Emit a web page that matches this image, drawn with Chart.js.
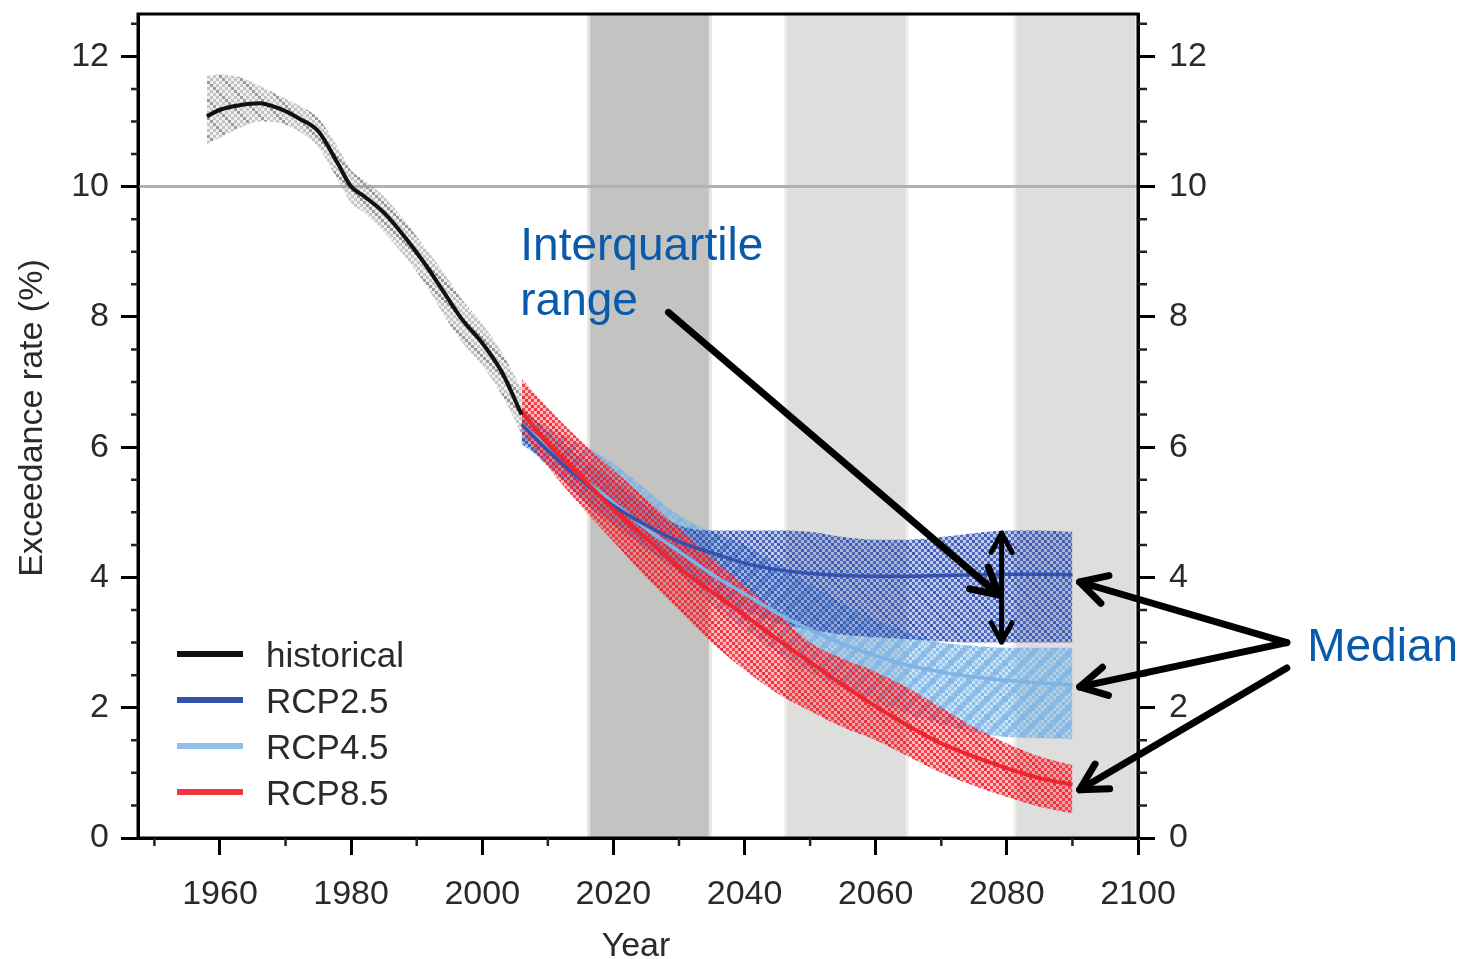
<!DOCTYPE html>
<html>
<head>
<meta charset="utf-8">
<script src="https://cdn.jsdelivr.net/npm/chart.js@4.4.0/dist/chart.umd.min.js"></script>
<style>
  html, body { margin: 0; padding: 0; background: #fff; }
  #wrap { width: 1464px; height: 959px; position: relative; }
</style>
</head>
<body>
<div id="wrap"><canvas id="chart"></canvas></div>
<script>
// historical ensemble
const histYears  = [1958, 1960, 1963, 1966, 1969, 1972, 1975, 1978, 1980, 1982, 1985, 1988, 1991, 1994, 1997, 2000, 2003, 2006];
const histMedian = [11.08, 11.18, 11.25, 11.28, 11.2, 11.05, 10.85, 10.35, 10.0, 9.85, 9.6, 9.25, 8.85, 8.4, 7.95, 7.6, 7.15, 6.5];
const histUpper  = [11.7, 11.72, 11.68, 11.55, 11.4, 11.25, 11.05, 10.6, 10.25, 10.1, 9.85, 9.5, 9.1, 8.7, 8.25, 7.9, 7.45, 6.9];
const histLower  = [10.65, 10.75, 10.9, 11.0, 10.98, 10.85, 10.6, 10.1, 9.75, 9.6, 9.3, 8.95, 8.55, 8.05, 7.6, 7.25, 6.8, 6.2];

// scenarios
const rcpYears    = [2006, 2010, 2015, 2020, 2025, 2030, 2035, 2040, 2045, 2050, 2055, 2060, 2065, 2070, 2075, 2080, 2085, 2090];
const rcp26Median = [6.35, 5.95, 5.5, 5.1, 4.8, 4.55, 4.38, 4.22, 4.12, 4.06, 4.03, 4.02, 4.02, 4.03, 4.04, 4.05, 4.05, 4.04];
const rcp26Upper  = [6.6, 6.25, 5.85, 5.5, 5.1, 4.8, 4.72, 4.72, 4.72, 4.7, 4.62, 4.58, 4.58, 4.62, 4.68, 4.72, 4.72, 4.7];
const rcp26Lower  = [6.05, 5.75, 5.2, 4.8, 4.45, 4.1, 3.75, 3.5, 3.3, 3.2, 3.12, 3.08, 3.05, 3.02, 3.0, 3.0, 3.0, 3.0];
const rcp45Median = [6.35, 6.0, 5.55, 5.15, 4.75, 4.4, 4.05, 3.75, 3.45, 3.2, 2.98, 2.8, 2.65, 2.55, 2.47, 2.42, 2.38, 2.35];
const rcp45Upper  = [6.55, 6.3, 6.05, 5.75, 5.35, 4.95, 4.7, 4.5, 4.2, 3.9, 3.6, 3.35, 3.15, 3.0, 2.95, 2.92, 2.92, 2.92];
const rcp45Lower  = [6.1, 5.7, 5.25, 4.85, 4.45, 4.05, 3.6, 3.2, 2.85, 2.55, 2.3, 2.1, 1.9, 1.75, 1.62, 1.55, 1.53, 1.52];
const rcp85Median = [6.55, 6.05, 5.55, 5.05, 4.6, 4.15, 3.78, 3.42, 3.05, 2.7, 2.35, 2.02, 1.72, 1.45, 1.25, 1.07, 0.92, 0.82];
const rcp85Upper  = [7.05, 6.6, 6.1, 5.65, 5.2, 4.75, 4.3, 3.88, 3.45, 3.0, 2.75, 2.55, 2.3, 2.0, 1.7, 1.45, 1.25, 1.12];
const rcp85Lower  = [6.25, 5.7, 5.1, 4.55, 4.0, 3.5, 3.0, 2.58, 2.22, 1.95, 1.7, 1.5, 1.25, 1.0, 0.8, 0.63, 0.48, 0.38];

const refLevel = 10;
const periods = [[2016, 2035], [2046, 2065], [2081, 2100]];
const periodColors = ['#c3c3c2', '#dededd', '#dededd'];

const xMajorTicks = [1960, 1980, 2000, 2020, 2040, 2060, 2080, 2100];
const xMinorTicks = [1950, 1970, 1990, 2010, 2030, 2050, 2070, 2090];
const yMajorTicks = [0, 2, 4, 6, 8, 10, 12];
const yMinorTicks = [0.5, 1, 1.5, 2.5, 3, 3.5, 4.5, 5, 5.5, 6.5, 7, 7.5, 8.5, 9, 9.5, 10.5, 11, 11.5, 12.5];

const legendLabels = ['historical', 'RCP2.5', 'RCP4.5', 'RCP8.5'];
const legendColors = ['#111111', '#3452ad', '#8fbfea', '#ee3540'];

// annotations, in data units
const iqrLabel = [['Interquartile', 2005.8, 8.87], ['range', 2005.8, 8.03]];
const iqrArrow = [2028.4, 8.07, 2078.8, 3.73];
const iqrSpan = [2079.2, 4.68, 3.01];
const medianLabel = ['Median', 2125.8, 2.72];
const medianArrows = [
  [2122.7, 3.0, 2091.1, 3.93],
  [2122.7, 3.0, 2091.1, 2.32],
  [2122.7, 2.61, 2091.1, 0.74]
];

const FONT = 'Liberation Sans, Arial, sans-serif';
const canvas = document.getElementById('chart');
const mainCtx = canvas.getContext('2d');

// checkered fill with diagonal streaks, 3px cells
function hatch(r, g, b, a1, a2, both) {
  const cell = 3, n = 6, size = cell * n;
  const c = document.createElement('canvas');
  c.width = c.height = size;
  const x = c.getContext('2d');
  for (let i = 0; i < n; i++) {
    for (let j = 0; j < n; j++) {
      let a = ((i + j) % 2 === 0) ? a1 : a2;
      if ((i - j + n) % n === 0) a = 0.95;
      if (both && (i + j) % n === 3) a = 0.9;
      x.fillStyle = `rgba(${r},${g},${b},${a})`;
      x.fillRect(i * cell, j * cell, cell, cell);
    }
  }
  return mainCtx.createPattern(c, 'repeat');
}

function pts(xs, ys) {
  return xs.map((x, i) => ({ x: x, y: ys[i] }));
}

function band(ys, fill, order) {
  return {
    data: pts(ys === histUpper || ys === histLower ? histYears : rcpYears, ys),
    borderWidth: 0, pointRadius: 0, fill: fill ? '+1' : false,
    backgroundColor: fill || 'transparent', order: order,
    cubicInterpolationMode: 'monotone'
  };
}

function median(label, xs, ys, color, order, width) {
  return {
    label: label, data: pts(xs, ys), borderColor: color, borderWidth: width,
    pointRadius: 0, fill: false, order: order, cubicInterpolationMode: 'monotone'
  };
}

function drawArrowHead(ctx, x1, y1, x2, y2, len, ang) {
  const a = Math.atan2(y2 - y1, x2 - x1);
  ctx.beginPath();
  ctx.moveTo(x2 - len * Math.cos(a - ang), y2 - len * Math.sin(a - ang));
  ctx.lineTo(x2, y2);
  ctx.lineTo(x2 - len * Math.cos(a + ang), y2 - len * Math.sin(a + ang));
  ctx.stroke();
}

function arrow(ctx, x1, y1, x2, y2, len, both) {
  ctx.beginPath();
  ctx.moveTo(x1, y1);
  ctx.lineTo(x2, y2);
  ctx.stroke();
  drawArrowHead(ctx, x1, y1, x2, y2, len, 0.5);
  if (both) drawArrowHead(ctx, x2, y2, x1, y1, len, 0.5);
}

const decor = {
  id: 'decor',
  beforeDatasetsDraw(chart) {
    const { ctx, chartArea: ca, scales: { x } } = chart;
    ctx.save();
    ctx.beginPath();
    ctx.rect(ca.left, ca.top, ca.right - ca.left, ca.bottom - ca.top);
    ctx.clip();
    periods.forEach((p, i) => {
      const x0 = x.getPixelForValue(p[0]);
      const x1 = x.getPixelForValue(p[1]);
      ctx.fillStyle = i === 0 ? '#e4e4e3' : '#eeeeed';
      ctx.fillRect(x0, ca.top, x1 - x0, ca.bottom - ca.top);
      ctx.fillStyle = periodColors[i];
      ctx.fillRect(x0 + 3, ca.top, x1 - x0 - 6, ca.bottom - ca.top);
    });
    ctx.restore();
  },
  afterDraw(chart) {
    const { ctx, chartArea: ca, scales: { x, y } } = chart;
    ctx.save();
    // frame
    ctx.strokeStyle = '#000';
    ctx.lineWidth = 3;
    ctx.strokeRect(ca.left, ca.top, ca.right - ca.left, ca.bottom - ca.top);
    // minor ticks
    ctx.lineWidth = 2.5;
    ctx.strokeStyle = '#222';
    yMinorTicks.forEach(v => {
      const py = y.getPixelForValue(v);
      ctx.beginPath();
      ctx.moveTo(ca.left - 7, py); ctx.lineTo(ca.left, py);
      ctx.moveTo(ca.right, py); ctx.lineTo(ca.right + 9, py);
      ctx.stroke();
    });
    xMinorTicks.forEach(v => {
      const px = x.getPixelForValue(v);
      ctx.beginPath();
      ctx.moveTo(px, ca.bottom); ctx.lineTo(px, ca.bottom + 8);
      ctx.stroke();
    });
    // legend
    ctx.font = `35px ${FONT}`;
    ctx.textAlign = 'left';
    ctx.textBaseline = 'alphabetic';
    legendLabels.forEach((lab, i) => {
      const ly = ca.top + 640 + i * 46;
      ctx.strokeStyle = legendColors[i];
      ctx.lineWidth = 6;
      ctx.beginPath();
      ctx.moveTo(ca.left + 39, ly); ctx.lineTo(ca.left + 105, ly);
      ctx.stroke();
      ctx.fillStyle = '#2a2a2a';
      ctx.fillText(lab, ca.left + 128, ly + 13);
    });
    // axis titles
    ctx.fillStyle = '#2a2a2a';
    ctx.font = `34px ${FONT}`;
    ctx.textAlign = 'center';
    ctx.fillText('Year', (ca.left + ca.right) / 2 - 2, 956);
    ctx.save();
    ctx.translate(33, 418);
    ctx.rotate(-Math.PI / 2);
    ctx.textBaseline = 'middle';
    ctx.fillText('Exceedance rate (%)', 0, 0);
    ctx.restore();
    // annotations
    ctx.strokeStyle = '#000';
    ctx.lineWidth = 7;
    ctx.lineCap = 'round';
    ctx.lineJoin = 'round';
    arrow(ctx, x.getPixelForValue(iqrArrow[0]), y.getPixelForValue(iqrArrow[1]),
      x.getPixelForValue(iqrArrow[2]), y.getPixelForValue(iqrArrow[3]), 30, false);
    ctx.lineWidth = 5;
    arrow(ctx, x.getPixelForValue(iqrSpan[0]), y.getPixelForValue(iqrSpan[1]),
      x.getPixelForValue(iqrSpan[0]), y.getPixelForValue(iqrSpan[2]), 22, true);
    ctx.lineWidth = 7;
    medianArrows.forEach(a => {
      arrow(ctx, x.getPixelForValue(a[0]), y.getPixelForValue(a[1]),
        x.getPixelForValue(a[2]), y.getPixelForValue(a[3]), 30, false);
    });
    ctx.fillStyle = '#0a5aab';
    ctx.font = `46px ${FONT}`;
    ctx.textAlign = 'left';
    ctx.textBaseline = 'alphabetic';
    iqrLabel.forEach(t => ctx.fillText(t[0], x.getPixelForValue(t[1]), y.getPixelForValue(t[2])));
    ctx.fillText(medianLabel[0], x.getPixelForValue(medianLabel[1]), y.getPixelForValue(medianLabel[2]));
    ctx.restore();
  }
};

const tickFont = { family: FONT, size: 34 };

function yAxis(position, width, padding) {
  return {
    type: 'linear', position: position, min: 0, max: 12.65,
    afterBuildTicks: s => { s.ticks = yMajorTicks.map(v => ({ value: v })); },
    afterFit: s => { s.width = width; s.paddingTop = 0; s.paddingBottom = 0; },
    grid: { drawOnChartArea: false, tickLength: 17, tickWidth: 3, tickColor: '#000' },
    border: { display: true, color: '#000', width: 3 },
    ticks: { font: tickFont, color: '#2a2a2a', padding: padding, callback: v => String(v) }
  };
}

new Chart(canvas, {
  type: 'line',
  data: {
    datasets: [
      { data: [{ x: 1947.5, y: refLevel }, { x: 2100, y: refLevel }], borderColor: '#b0b2ae', borderWidth: 3, pointRadius: 0, order: 20 },
      band(rcp45Upper, hatch(125, 180, 230, 0.8, 0.4, true), 12),
      band(rcp45Lower, null, 11),
      band(rcp26Upper, hatch(52, 82, 175, 0.85, 0.3, false), 10),
      band(rcp26Lower, null, 9),
      band(rcp85Upper, hatch(238, 37, 48, 0.85, 0.3, false), 8),
      band(rcp85Lower, null, 7),
      band(histUpper, hatch(150, 150, 150, 0.55, 0.15, false), 6),
      band(histLower, null, 5),
      median('RCP4.5', rcpYears, rcp45Median, '#7db3e5', 4, 3.5),
      median('RCP2.5', rcpYears, rcp26Median, '#3452ad', 3, 3.5),
      median('RCP8.5', rcpYears, rcp85Median, '#ee2530', 2, 4),
      median('historical', histYears, histMedian, '#111111', 1, 4)
    ]
  },
  options: {
    responsive: true,
    maintainAspectRatio: false,
    animation: false,
    layout: { padding: { top: 14, left: 0, right: 0, bottom: 0 } },
    plugins: { legend: { display: false }, tooltip: { enabled: false } },
    scales: {
      x: {
        type: 'linear', min: 1947.5, max: 2100,
        afterBuildTicks: s => { s.ticks = xMajorTicks.map(v => ({ value: v })); },
        afterFit: s => { s.height = 121; s.paddingLeft = 0; s.paddingRight = 0; },
        grid: { drawOnChartArea: false, tickLength: 17, tickWidth: 3, tickColor: '#000' },
        border: { display: true, color: '#000', width: 3 },
        ticks: { font: tickFont, color: '#2a2a2a', padding: 19, maxRotation: 0, autoSkip: false, callback: v => String(v) }
      },
      y: yAxis('left', 138, 12),
      y2: yAxis('right', 326, 14)
    }
  },
  plugins: [decor]
});
</script>
</body>
</html>
